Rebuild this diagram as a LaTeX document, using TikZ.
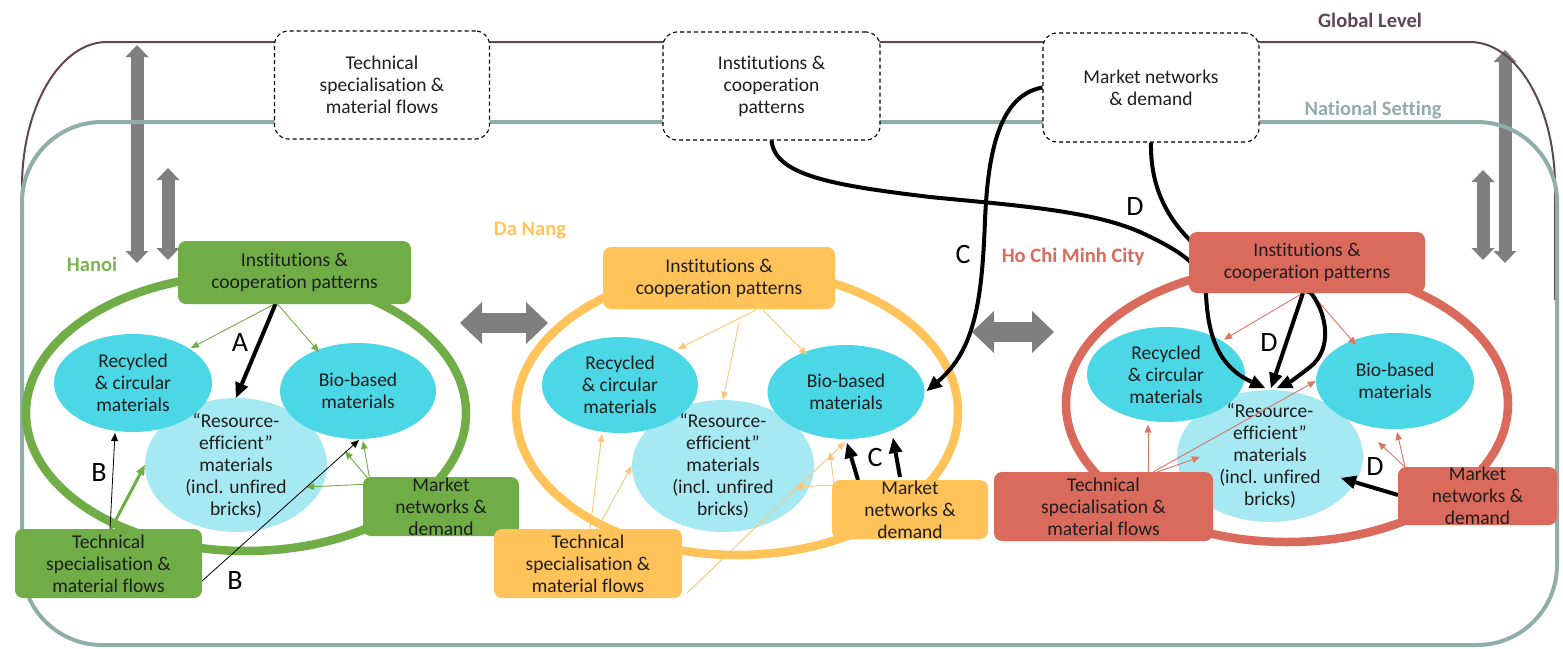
\documentclass[tikz,border=0pt]{standalone}
\usepackage{fontspec}
\setmainfont{Carlito}[Ligatures=NoCommon]
\usetikzlibrary{arrows.meta,calc,shapes.geometric}

\definecolor{inkc}{HTML}{1E1E1E}
\definecolor{hgreen}{HTML}{70AD47}
\definecolor{hgreenlbl}{HTML}{7AB552}
\definecolor{dorange}{HTML}{FFC35A}
\definecolor{dorangeln}{HTML}{F8C67A}
\definecolor{cred}{HTML}{DA6A5B}
\definecolor{credln}{HTML}{DE7466}
\definecolor{matcyan}{HTML}{4CD7E6}
\definecolor{matlight}{HTML}{A7E9F2}
\definecolor{arrowgrey}{HTML}{7F7F7F}
\definecolor{globalc}{HTML}{5E4652}
\definecolor{nationc}{HTML}{91ADA8}

\newcommand\bxfont{\fontsize{19.5}{22}\selectfont}
\newcommand\letfont{\fontsize{28}{30}\selectfont}
\newcommand\lvlfont{\fontsize{20.5}{24}\selectfont\bfseries}

\begin{document}
\begin{tikzpicture}[x=1pt,y=-1pt,
  citybox/.style={rectangle, rounded corners=8pt, inner sep=0pt, align=center, font=\bxfont, text=inkc},
  toplevel/.style={rectangle, rounded corners=14pt, draw=black, line width=1.1pt,
    dash pattern=on 4pt off 3pt, fill=white, inner sep=0pt, align=center,
    font=\bxfont, text=inkc},
  mat/.style={ellipse, inner sep=0pt, align=center, font=\bxfont, text=inkc},
  ringshape/.style={ellipse, inner sep=0pt, line width=8.5pt},
  link/.style={line width=0.9pt, -{Triangle[length=8pt,width=7pt,line width=0pt]}},
  boldlink/.style={line width=4pt, draw=black, -{Triangle[length=15pt,width=14pt,line width=0pt]}},
  letter/.style={font=\letfont, text=black, inner sep=0pt},
  vtarrow/.style={draw=arrowgrey, line width=13pt,
    {Triangle[width=23pt,length=12pt,line width=0pt]}-{Triangle[width=23pt,length=12pt,line width=0pt]}},
  hzarrow/.style={draw=arrowgrey, line width=20pt,
    {Triangle[width=42pt,length=22pt,line width=0pt]}-{Triangle[width=42pt,length=22pt,line width=0pt]}}
]
\useasboundingbox (0,0) rectangle (1563,648);

% ---- exchanges between levels (grey double arrows)
\coordinate (lv1a) at (137,45);   \coordinate (lv1b) at (137,263);
\coordinate (lv2a) at (168,168);  \coordinate (lv2b) at (168,260);
\coordinate (rv1a) at (1505,50);  \coordinate (rv1b) at (1505,263);
\coordinate (rv2a) at (1483,170); \coordinate (rv2b) at (1483,260);
\draw[vtarrow] (lv1a) -- (lv1b);
\draw[vtarrow] (lv2a) -- (lv2b);
\draw[vtarrow] (rv1a) -- (rv1b);
\draw[vtarrow] (rv2a) -- (rv2b);

% ---- global level and national setting outlines
\draw[globalc, line width=2pt] (22,300) -- (22,187) .. controls (22,107) and (60,42) .. (107,42)
  -- (1470,42) .. controls (1517,42) and (1555,107) .. (1555,187) -- (1555,300);
\draw[nationc, line width=4pt, rounded corners=80pt] (22,122) rectangle (1557,645);

\node[text=globalc, font=\lvlfont] (glbl) at (1370,20) {Global Level};
\node[text=nationc, font=\lvlfont] (nlbl) at (1373,110) {National Setting};

% ---- global dimensions (dashed boxes)
\node[toplevel, minimum width=215pt, minimum height=108pt] (gtech) at (382,85) {Technical\\specialisation \&\\material flows};
\node[toplevel, minimum width=217pt, minimum height=108pt] (ginst) at (771.5,86) {Institutions \&\\cooperation\\patterns};
\node[toplevel, minimum width=216pt, minimum height=109pt] (gmkt) at (1151,87.5) {Market networks\\\& demand};

% ---- city rings
\node[ringshape, draw=hgreen, minimum width=440pt, minimum height=276pt] (hring) at (246,413) {};
\node[ringshape, draw=dorange, minimum width=442pt, minimum height=286pt] (dring) at (737,412) {};
\node[ringshape, draw=cred, minimum width=442pt, minimum height=276pt] (cring) at (1287,404) {};

% ---- city names
\node[text=hgreenlbl, font=\lvlfont] (hname) at (92,264) {Hanoi};
\node[text=dorange, font=\lvlfont] (dname) at (530,231) {Da Nang};
\node[text=cred, font=\lvlfont] (cname) at (1073,257) {Ho Chi Minh City};

% ---- material types
\node[mat, fill=matlight, minimum width=182pt, minimum height=134pt] (hres) at (236,465) {};
\node[mat, fill=matcyan, minimum width=158pt, minimum height=98pt] (hrec) at (133,383) {Recycled\\\& circular\\materials};
\node[mat, fill=matcyan, minimum width=156pt, minimum height=96pt] (hbio) at (358,391) {Bio-based\\materials};
\node[mat] (hrest) at (236,466) {“Resource-\\efficient”\\materials\\(incl. unfired\\bricks)};

\node[mat, fill=matlight, minimum width=182pt, minimum height=132pt] (dres) at (723,466) {};
\node[mat, fill=matcyan, minimum width=156pt, minimum height=96pt] (drec) at (620,385) {Recycled\\\& circular\\materials};
\node[mat, fill=matcyan, minimum width=157pt, minimum height=94pt] (dbio) at (846,392) {Bio-based\\materials};
\node[mat] (drest) at (723,466) {“Resource-\\efficient”\\materials\\(incl. unfired\\bricks)};

\node[mat, fill=matlight, minimum width=186pt, minimum height=132pt] (cres) at (1270,456) {};
\node[mat, fill=matcyan, minimum width=158pt, minimum height=95pt] (crec) at (1166,374.5) {Recycled\\\& circular\\materials};
\node[mat, fill=matcyan, minimum width=158pt, minimum height=96pt] (cbio) at (1395,381) {Bio-based\\materials};
\node[mat] (crest) at (1270,456) {“Resource-\\efficient”\\materials\\(incl. unfired\\bricks)};

% ---- lower edges of the institution boxes, where their links start
\coordinate (hinstS) at (294.5,304);
\coordinate (dinstS) at (719,309);
\coordinate (cinstS) at (1307,293);

% ---- Hanoi links
\draw[link, hgreen] ($(hinstS)+(-20,0)$) -- ($(hrec)+(58,-35)$);
\draw[link, hgreen] ($(hinstS)+(-17,0)$) -- ($(hbio)+(-39,-39)$);
\draw[link, hgreen] (370,481) -- ($(hbio)+(5,50)$);
\draw[link, hgreen] (370,481) -- ($(hbio)+(-13,60)$);
\draw[link, hgreen] (370,484) -- ($(hres)+(70,22)$);
\draw[hgreen, line width=3pt, -{Triangle[length=10pt,width=9pt,line width=0pt]}] (111,529) -- (hres.west);
\draw[link, black, line width=0.8pt] (110,529) -- ($(hrec)+(-18,50)$);
\draw[link, black, line width=0.8pt] (202,581) -- ($(hbio)+(1,49)$);
\draw[boldlink] ($(hinstS)+(-19,0)$) -- (hres.north);
\node[letter] (lA) at (240,343) {A};
\node[letter] (lB1) at (99,473) {B};
\node[letter] (lB2) at (235,581) {B};

% ---- Da Nang links
\coordinate (dfree) at (739,323);
\draw[link, dorangeln] ($(dinstS)+(37,1)$) -- ($(drec)+(58,-36)$);
\draw[link, dorangeln] ($(dinstS)+(44,1)$) -- ($(dbio)+(-39,-37)$);
\draw[link, dorangeln] (dfree) -- (dres.north);
\draw[link, dorangeln] (590,529) -- ($(drec)+(-18,49)$);
\draw[link, dorangeln] (597,529) -- (dres.west);
\draw[link, dorangeln] (687,593) -- ($(dbio)+(-1,50)$);
\draw[link, dorangeln] (834,485) -- ($(dres)+(72,21)$);
\draw[link, dorangeln] (834,485) -- ($(dbio)+(-16,60)$);
\draw[boldlink] (858,480) -- ($(dbio)+(1,51)$);
\draw[boldlink] (900,477) -- ($(dbio)+(47,46)$);
\node[letter] (lC1) at (875,458) {C};

% ---- Ho Chi Minh City links
\draw[link, credln] ($(cinstS)+(-4,0)$) -- ($(crec)+(58,-35)$);
\draw[link, credln] ($(cinstS)+(4,0)$) -- ($(cbio)+(-39,-36)$);
\draw[link, credln] (1148,472) -- ($(crec)+(-18,50)$);
\draw[link, credln] (1153,472) -- (cbio.west);
\draw[link, credln] (1157,472) -- ($(cres)+(-70,1)$);
\draw[link, credln] (1405,467) -- ($(cbio)+(2,51)$);
\draw[link, credln] (1405,467) -- ($(cbio)+(-17,61)$);
\draw[boldlink] (1398,495) -- ($(cres)+(71,22)$);
\draw[boldlink] ($(cinstS)+(-4,0)$) -- ($(cres)+(1,-68)$);
\node[letter] (lD1) at (1375,467) {D};
\node[letter] (lD2) at (1269,343) {D};

% ---- influences from the global level
\draw[boldlink] (gmkt.west) .. controls (1000,95) and (988,150) .. (985,220)
  .. controls (982,300) and (975,350) .. ($(dbio.east)+(2,-1)$);
\node[letter] (lC2) at (963,255) {C};

\draw[boldlink] (ginst.south) .. controls (775,175) and (830,185) .. (930,197)
  .. controls (1010,205) and (1090,210) .. (1140,232)
  .. controls (1190,255) and (1205,270) .. (1206,295)
  .. controls (1208,330) and (1215,365) .. ($(cres)+(-5,-68)$);
\draw[boldlink] (gmkt.south) .. controls (1150,190) and (1170,222) .. (1195,245)
  -- (1311,293) .. controls (1328,315) and (1332,350) .. (1310,367)
  .. controls (1300,375) and (1290,382) .. ($(cres)+(7,-68)$);
\node[letter] (lD3) at (1135,207) {D};

% ---- city dimension boxes
\node[citybox, fill=hgreen, minimum width=233pt, minimum height=63pt] (hinst) at (294.5,272.5) {Institutions \&\\cooperation patterns};
\node[citybox, fill=hgreen, minimum width=156pt, minimum height=59pt] (hmkt) at (441,506.5) {Market\\networks \&\\demand};
\node[citybox, fill=hgreen, minimum width=187pt, minimum height=69pt] (htech) at (108.5,563.5) {Technical\\specialisation \&\\material flows};

\node[citybox, fill=dorange, minimum width=232pt, minimum height=62pt] (dinst) at (719,278) {Institutions \&\\cooperation patterns};
\node[citybox, fill=dorange, minimum width=156pt, minimum height=59pt] (dmkt) at (910,509.5) {Market\\networks \&\\demand};
\node[citybox, fill=dorange, minimum width=188pt, minimum height=69pt] (dtech) at (588,563.5) {Technical\\specialisation \&\\material flows};

\node[citybox, fill=cred, minimum width=236pt, minimum height=61pt] (cinst) at (1307,262.5) {Institutions \&\\cooperation patterns};
\node[citybox, fill=cred, minimum width=159pt, minimum height=58pt] (cmkt) at (1477.5,496) {Market\\networks \&\\demand};
\node[citybox, fill=cred, minimum width=219pt, minimum height=69pt] (ctech) at (1103.5,506.5) {Technical\\specialisation \&\\material flows};

% ---- exchanges between cities
\coordinate (hd1) at (460,323); \coordinate (hd2) at (548,323);
\coordinate (dc1) at (972,332); \coordinate (dc2) at (1054,332);
\draw[hzarrow] (hd1) -- (hd2);
\draw[hzarrow] (dc1) -- (dc2);
\end{tikzpicture}
\end{document}
